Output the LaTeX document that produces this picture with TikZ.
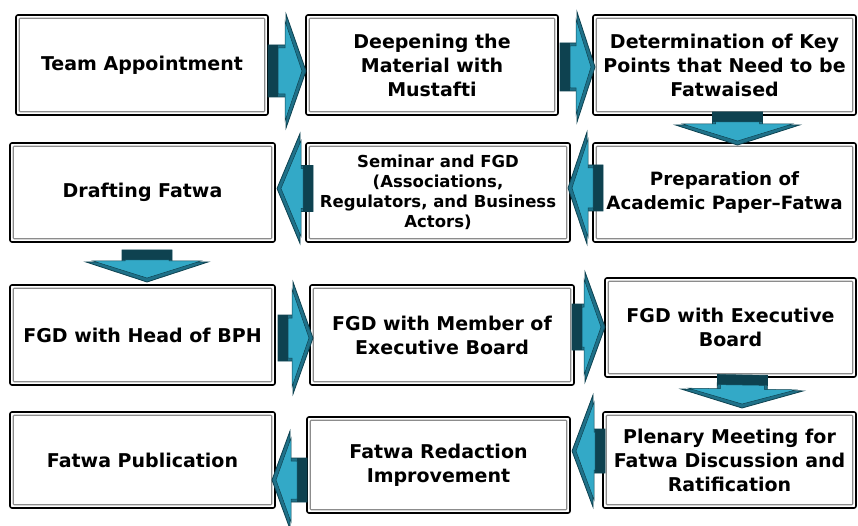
\documentclass[tikz,border=0pt]{standalone}
\usepackage{fontspec}
\setmainfont{DejaVu Sans}
\usetikzlibrary{calc}
\definecolor{arrdark}{HTML}{0E4250}
\definecolor{arrmid}{HTML}{1F7189}
\definecolor{arrlight}{HTML}{33A9C7}
\definecolor{framegray}{HTML}{8C8C8C}
\newcommand\flowarrow[5]{%
  \coordinate (fs) at (#1);
  \coordinate (ft) at (#2);
  \coordinate (fb) at ($(ft)!#5!(fs)$);
  \coordinate (fs2) at ($(fs)!10pt!(ft)$);
  \coordinate (ft2) at ($(ft)!4pt!(fs)$);
  \coordinate (fb2) at ($(fb)!1pt!(fs)$);
  \filldraw[fill=arrmid, draw=arrdark, line width=0.8pt, line join=miter]
    ($(fs)!#3!90:(ft)$) -- ($(fb)!#3!90:(ft)$) -- ($(fb)!#4!90:(ft)$) -- (ft)
    -- ($(fb)!#4!-90:(ft)$) -- ($(fb)!#3!-90:(ft)$) -- ($(fs)!#3!-90:(ft)$) -- cycle;
  \fill[arrdark] ($(fs)!#3!90:(ft)$) -- ($(fs2)!#3!90:(ft)$) -- ($(fs2)!#3!-90:(ft)$) -- ($(fs)!#3!-90:(ft)$) -- cycle;
  \filldraw[fill=arrlight, draw=arrdark, line width=0.5pt, line join=miter]
    ($(fs2)!#3-3pt!90:(ft)$) -- ($(fb2)!#3-3pt!90:(ft)$) -- ($(fb2)!#4-7pt!90:(ft)$) -- (ft2)
    -- ($(fb2)!#4-7pt!-90:(ft)$) -- ($(fb2)!#3-3pt!-90:(ft)$) -- ($(fs2)!#3-3pt!-90:(ft)$) -- cycle;
}
\tikzset{
  box/.style={draw=black, line width=1.6pt, rounded corners=2pt, fill=white, align=center,
    inner sep=0pt, outer sep=0pt, font=\fontsize{19}{24}\selectfont\bfseries},
  midbox/.style={box, font=\fontsize{18.3}{24}\selectfont\bfseries},
  smallbox/.style={box, font=\fontsize{16.5}{20}\selectfont\bfseries},
  innerframe/.style={draw=framegray, line width=1.2pt, rounded corners=1pt}
}
\begin{document}
\begin{tikzpicture}[x=1pt,y=-1pt]
\useasboundingbox (0,0) rectangle (858,526);
\node[box, minimum width=252pt, minimum height=100pt] (A) at (142,65) {Team Appointment};
\node[box, minimum width=252pt, minimum height=100pt] (B) at (432,65) {Deepening the\\Material with\\Mustafti};
\node[box, minimum width=263pt, minimum height=100pt] (C) at (724.5,65) {Determination of Key\\Points that Need to be\\Fatwaised};
\node[midbox, minimum width=263pt, minimum height=99pt] (D) at (724.5,192.5) {Preparation of\\Academic Paper–Fatwa};
\node[smallbox, minimum width=264pt, minimum height=99pt] (F) at (438,192.5) {Seminar and FGD\\(Associations,\\Regulators, and Business\\Actors)};
\node[box, minimum width=265pt, minimum height=99pt] (E) at (142.5,192.5) {Drafting Fatwa};
\node[box, minimum width=265pt, minimum height=100pt] (G) at (142.5,335) {FGD with Head of BPH};
\node[box, minimum width=264pt, minimum height=100pt] (H) at (442,335) {FGD with Member of\\Executive Board};
\node[box, minimum width=251pt, minimum height=99pt] (I) at (730.5,327.5) {FGD with Executive\\Board};
\node[box, minimum width=253pt, minimum height=96pt] (J) at (729.5,460) {Plenary Meeting for\\Fatwa Discussion and\\Ratification};
\node[box, minimum width=263pt, minimum height=96pt] (L) at (438.5,465) {Fatwa Redaction\\Improvement};
\node[box, minimum width=265pt, minimum height=96pt] (K) at (142.5,460) {Fatwa Publication};
\foreach \n in {A,B,C,D,E,F,G,H,I,J,K,L}
  \draw[innerframe] ([xshift=3.2pt,yshift=-3.2pt]\n.north west) rectangle ([xshift=-3.2pt,yshift=3.2pt]\n.south east);
\flowarrow{[yshift=-6pt]A.east}{[yshift=-6pt]B.west}{26pt}{57pt}{20pt}
\flowarrow{[xshift=2pt,yshift=-2pt]B.east}{[xshift=2pt,yshift=-2pt]C.west}{24pt}{55pt}{18pt}
\flowarrow{[xshift=13pt,yshift=3pt]C.south}{[xshift=13pt,yshift=-2pt]D.north}{25pt}{62pt}{20pt}
\flowarrow{[xshift=10pt,yshift=4.5pt]D.west}{[xshift=-2pt,yshift=4.5pt]F.east}{23pt}{56pt}{19pt}
\flowarrow{[xshift=7pt,yshift=4pt]F.west}{[xshift=2pt,yshift=4pt]E.east}{23pt}{55pt}{23pt}
\flowarrow{[xshift=4.5pt,yshift=-8pt]E.south}{[xshift=4.5pt,yshift=3pt]G.north}{25pt}{61pt}{20pt}
\flowarrow{[xshift=3pt,yshift=-3pt]G.east}{[xshift=3pt,yshift=-3pt]H.west}{23pt}{56pt}{20pt}
\flowarrow{[xshift=-2pt,yshift=8pt]H.east}{[yshift=0.5pt]I.west}{23pt}{55pt}{20pt}
\flowarrow{[xshift=12pt,yshift=2pt]I.south}{[xshift=12.5pt,yshift=4pt]J.north}{25pt}{61pt}{18pt}
\flowarrow{[xshift=2pt,yshift=9pt]J.west}{[xshift=2pt,yshift=14pt]L.east}{22pt}{56pt}{21pt}
\flowarrow{[yshift=-15pt]L.west}{[xshift=-3pt,yshift=-20pt]K.east}{22pt}{49pt}{18pt}
\end{tikzpicture}
\end{document}
